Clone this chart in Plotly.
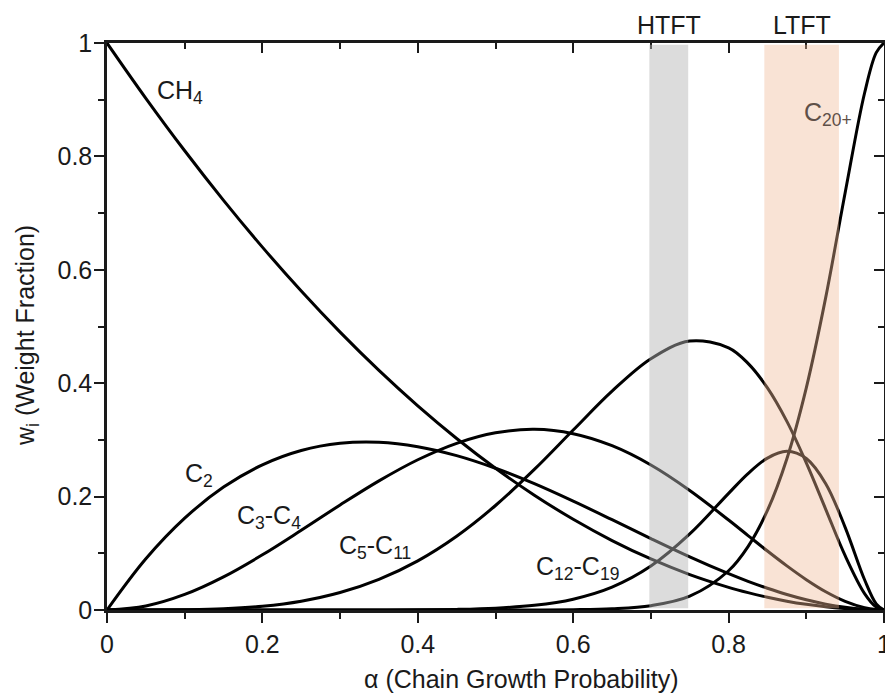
import plotly.graph_objects as go

# chain growth probability (x) and weight fractions
alpha = [0, .05, .1, .15, .2, .25, .3, .35, .4, .45, .5, .55, .6, .65, .7, .75,
         .8, .825, .85, .875, .9, .925, .95, .975, .99, 1]
ch4 = [1, .9025, .81, .7225, .64, .5625, .49, .4225, .36, .3025, .25, .2025, .16,
       .1225, .09, .0625, .04, .0306, .0225, .0156, .01, .0056, .0025, .0006, .0001, 0]
c2 = [0, .0903, .162, .2168, .256, .2813, .294, .2958, .288, .2723, .25, .2228, .192,
      .1593, .126, .0938, .064, .0505, .0383, .0273, .018, .0104, .0048, .0012, .0002, 0]
c3c4 = [0, .0072, .0275, .0585, .0973, .1406, .1852, .2277, .265, .294, .3125, .3186,
        .311, .2898, .2558, .2109, .1587, .1313, .104, .0778, .0535, .0322, .0153,
        .0041, .0007, 0]
c5c11 = [0, 0, .0005, .0022, .0067, .0156, .0308, .054, .0867, .1301, .1843, .2479,
         .3174, .386, .4432, .4744, .4624, .435, .3917, .3326, .2595, .1776, .0958,
         .029, .0052, 0]
c12c19 = [0, 0, 0, 0, 0, 0, 0, .0001, .0003, .0011, .0032, .0082, .0191, .0403, .0774,
          .1341, .2057, .2406, .2679, .2798, .2672, .2228, .1458, .0533, .0107, 0]
c20p = [0, 0, 0, 0, 0, 0, 0, 0, 0, 0, 0, .0001, .0005, .0021, .0076, .0243, .0692,
        .1118, .1756, .2669, .3918, .5513, .7358, .9118, .9831, 1]

series = [ch4, c2, c3c4, c5c11, c12c19, c20p]

# curve labels: text, x, y
label_text = ["CH<sub>4</sub>", "C<sub>2</sub>", "C<sub>3</sub>-C<sub>4</sub>",
              "C<sub>5</sub>-C<sub>11</sub>", "C<sub>12</sub>-C<sub>19</sub>",
              "C<sub>20+</sub>"]
label_x = [0.094, 0.118, 0.209, 0.345, 0.605, 0.928]
label_y = [0.913, 0.238, 0.164, 0.111, 0.074, 0.874]

# operating windows
band_names = ["HTFT", "LTFT"]
band_lo = [0.698, 0.846]
band_hi = [0.748, 0.942]

tick_vals = [0, 0.2, 0.4, 0.6, 0.8, 1]
tick_text = ["0", "0.2", "0.4", "0.6", "0.8", "1"]

FONT = "Liberation Sans, Arial, sans-serif"
INK = "#1a1a1a"
FS = 25

fig = go.Figure()
for s in series:
    fig.add_trace(go.Scatter(x=alpha, y=s, mode="lines",
                             line=dict(color="black", width=3, shape="spline"),
                             showlegend=False, hoverinfo="skip"))
fig.add_trace(go.Scatter(x=[None], y=[None], xaxis="x2", yaxis="y2",
                         showlegend=False, hoverinfo="skip"))

band_fill = ["rgb(180,180,180)", "rgb(240,185,150)"]
band_op = [0.47, 0.4]
for i in range(2):
    fig.add_shape(type="rect", xref="x", yref="paper", x0=band_lo[i], x1=band_hi[i],
                  y0=0.003, y1=0.997, fillcolor=band_fill[i], opacity=band_op[i],
                  line=dict(width=0), layer="above")
    fig.add_annotation(x=(band_lo[i] + band_hi[i]) / 2, y=1.032, xref="x", yref="paper",
                       xanchor="center", yanchor="middle",
                       text=band_names[i], showarrow=False,
                       font=dict(size=FS, color=INK, family=FONT))

for i, t in enumerate(label_text):
    col = "#5f5048" if i == 5 else INK
    fig.add_annotation(x=label_x[i], y=label_y[i], text=t, showarrow=False,
                       xanchor="center", yanchor="middle",
                       font=dict(size=FS, color=col, family=FONT))

fig.add_annotation(x=0.533, y=-0.121, xref="paper", yref="paper",
                   xanchor="center", yanchor="middle",
                   text="α (Chain Growth Probability)", showarrow=False,
                   font=dict(size=FS, color=INK, family=FONT))
fig.add_annotation(x=-0.103, y=0.485, xref="paper", yref="paper",
                   xanchor="center", yanchor="middle",
                   text="w<sub>i</sub> (Weight Fraction)", showarrow=False, textangle=-90,
                   font=dict(size=FS, color=INK, family=FONT))

ax_common = dict(range=[0, 1], showgrid=False, zeroline=False, showline=True,
                 linecolor=INK, linewidth=2.5, tickcolor=INK, tickwidth=2, ticklen=10,
                 tickvals=tick_vals, fixedrange=True, automargin=False)

fig.update_layout(
    width=885, height=695,
    margin=dict(l=107, r=1, t=43, b=85),
    paper_bgcolor="white", plot_bgcolor="white",
    font=dict(family=FONT, size=FS, color=INK),
    xaxis=dict(**ax_common, ticks="outside", ticktext=tick_text,
               ticklabeloverflow="allow",
               minor=dict(dtick=0.1, ticks="outside", ticklen=6, tickwidth=2, tickcolor=INK)),
    yaxis=dict(**ax_common, ticks="outside", ticktext=tick_text,
               ticklabeloverflow="allow", ticklabelstandoff=-3,
               minor=dict(dtick=0.1, ticks="outside", ticklen=6, tickwidth=2, tickcolor=INK)),
    xaxis2=dict(**ax_common, overlaying="x", side="top", anchor="y", ticks="inside",
                showticklabels=False,
                minor=dict(dtick=0.1, ticks="inside", ticklen=6, tickwidth=2, tickcolor=INK)),
    yaxis2=dict(**ax_common, overlaying="y", side="right", anchor="x", ticks="inside",
                showticklabels=False,
                minor=dict(dtick=0.1, ticks="inside", ticklen=6, tickwidth=2, tickcolor=INK)),
)

fig.write_html("out.html")
